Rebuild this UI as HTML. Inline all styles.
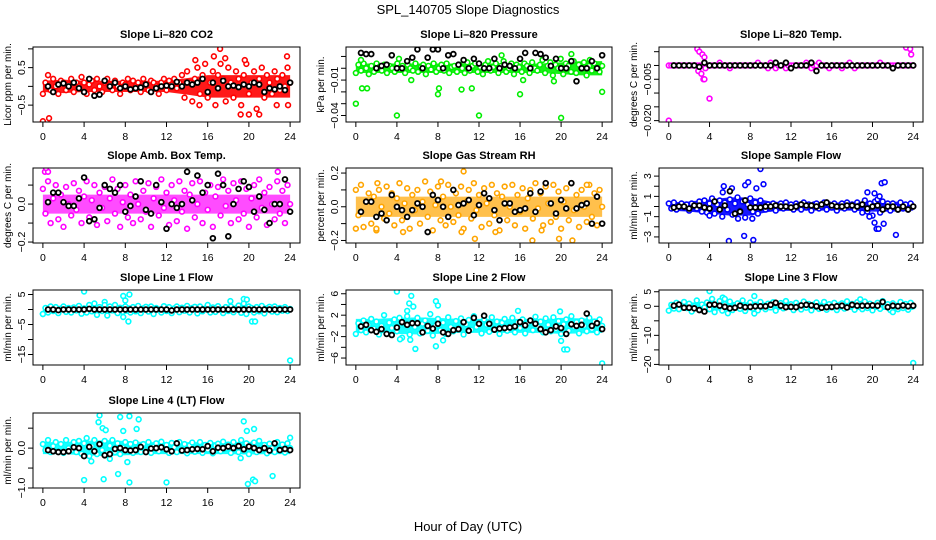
<!DOCTYPE html>
<html><head><meta charset="utf-8"><title>SPL_140705 Slope Diagnostics</title>
<style>
html,body{margin:0;padding:0;background:#fff;}
svg{display:block;font-family:"Liberation Sans",Arial,sans-serif;}
</style></head>
<body>
<svg id="chart" width="936" height="540" viewBox="0 0 936 540" xmlns="http://www.w3.org/2000/svg">
<text x="468" y="14" text-anchor="middle" font-size="13">SPL_140705  Slope Diagnostics</text>
<text x="468" y="531" text-anchor="middle" font-size="13">Hour of Day (UTC)</text>
</svg>
<script>
// ---- data (hour axis 0..24) ----
const hourTicks = [0,4,8,12,16,20,24];

const co2Main = [-0.2,0.1,0.3,-0.1,0.2,0.0,-0.2,0.15,0.1,-0.1,0.05,0.2,-0.15,0.1,0.0,0.25,0.1,-0.2,0.05,0.15,-0.1,0.2,0.0,-0.15,0.1,0.2,0.05,-0.1,0.15,0.0,-0.2,0.1,0.05,0.2,-0.1,0.15,0.0,0.1,-0.15,0.2,0.05,-0.1,0.15,0.1,0.0,-0.2,0.1,0.2,-0.1,0.15,0.05,0.2,-0.05,0.1,0.3,-0.3,0.4,0.1,-0.4,0.2,0.5,-0.2,0.3,0.6,-0.3,0.1,0.4,-0.5,0.3,0.6,0.2,-0.4,0.5,0.1,-0.3,0.4,0.2,-0.5,0.3,0.6,-0.2,0.1,0.4,-0.6,0.2,0.5,-0.3,0.3,0.1,-0.2,0.4,0.2,-0.1,0.3,0.0,0.5,0.1];
const co2Black = [0.0,-0.15,0.05,0.08,0.0,0.1,-0.05,-0.15,0.2,-0.25,-0.22,0.15,0.0,0.1,-0.05,0.0,-0.08,-0.05,-0.03,0.05,-0.15,-0.05,0.0,0.02,0.0,0.12,0.0,0.1,0.05,0.1,0.2,-0.15,0.1,-0.05,0.15,0.0,0.02,-0.02,0.05,0.0,0.1,0.05,-0.15,-0.05,-0.08,0.0,-0.1,0.1];
const co2Out = [[0,-0.93],[0.6,-0.85],[17.2,1.0],[16.6,0.8],[17.7,0.75],[19.2,-0.75],[20,-0.75],[21,-0.75],[23.7,0.8],[14.8,0.7],[19.6,0.7],[15.2,-0.5],[22.7,-0.5],[23.8,-0.5]];
const co2Band = [0.15,0.18,0.15,0.15,0.15,0.15,0.15,0.22,0.3,0.3,0.3,0.3,0.3];

const presMain = [-0.004,0.003,-0.002,0.004,0.0,-0.005,0.002,-0.003,0.004,0.001,-0.002,0.003,-0.004,0.002,0.0,-0.003,0.004,-0.001,0.002,-0.004,0.003,0.0,-0.002,0.004,-0.003,0.001,0.003,-0.005,0.002,-0.001,0.004,-0.003,0.0,0.003,-0.002,0.004,-0.004,0.001,0.002,-0.003,0.003,0.0,-0.004,0.005,-0.002,0.002,0.004,-0.003,0.001,-0.005,0.003,0.006,-0.002,0.001,0.004,-0.004,0.002,0.006,-0.003,0.0,0.004,-0.005,0.003,0.001,-0.003,0.004,0.002,-0.004,0.005,0.0,-0.002,0.003,0.007,-0.004,0.002,0.005,-0.006,0.003,0.0,0.008,-0.005,0.004,0.002,-0.003,0.006,-0.004,0.003,0.0,0.005,-0.006,0.002,-0.002,0.004,0.001,-0.003,0.002];
const presBlack = [0.013,0.012,0.012,0.0,0.002,0.003,0.011,0.0,0.0,0.006,0.009,0.016,0.0,0.009,0.016,0.016,0.0,0.011,0.012,0.003,0.007,0.0,0.008,0.004,0.0,0.0,0.008,0.0,0.003,0.002,0.0,0.008,0.013,0.0,0.013,0.012,0.009,0.002,0.008,0.0,0.0,0.006,-0.011,0.0,0.0,0.006,0.0,0.011];
const presOut = [[0,-0.03],[0.6,-0.017],[1.1,-0.017],[4,-0.04],[8,-0.022],[8.1,-0.017],[10.3,-0.018],[11.3,-0.017],[12,-0.04],[16,-0.022],[20,-0.042],[24,-0.02],[0.5,0.007],[4.2,0.008],[14.2,0.011],[21,0.012],[22.8,0.007],[16.3,-0.01],[19.3,-0.011],[5.4,-0.01]];
const presBand = [0.004,0.004,0.004,0.004,0.004,0.004,0.004,0.004,0.004,0.004,0.005,0.006,0.006];

const tempMain = [0,0,0,0,0,0,0,0,0,0,0,0,0,0,0,0,0,0,0,0,0.001,0,0,0,-0.001,0,0,0,0,0,0,0,0,0,0,0.001,0,0,0,-0.001,0.001,0,-0.001,0,0,0,-0.001,0,0,0,0,0,0,0,0.001,0,-0.001,0,0,0.001,0,0,0,-0.001,0,0,0,0,-0.001,0,0,0.001,0,-0.001,0,0,0,0,0,0,0,0,0,0.001,0,0,0,0,0,0,0,0,0,0,0,0,0];
const tempBlack = [0,0,0,0,0,-0.0005,0.001,0,0,0,0,0,0,0,0,0,0,0,0,0,0.001,0,0.001,-0.001,0,0,0,0.001,-0.002,0,0,0,0,0,0,0,0,0,0,0,0,0,0,-0.001,0,0,0,0];
const tempOut = [[2.8,0.006],[3.0,0.005],[3.3,0.004],[3.5,0.003],[2.9,-0.002],[3.2,-0.003],[3.4,-0.005],[3.5,-0.005],[0,-0.020],[4,-0.012],[23.3,0.0065],[23.7,0.006],[23.8,0.004],[3.6,-0.001]];
const tempBand = [0.0004,0.0008,0.0004,0.0004,0.0004,0.0004,0.0004,0.0004,0.0004,0.0004,0.0004,0.0004,0.0004];

const ambMain = [0.08,-0.05,0.12,-0.1,0.03,0.1,-0.08,0.05,-0.12,0.09,0.0,-0.06,0.11,-0.03,0.07,-0.1,0.04,0.12,-0.07,0.02,0.1,-0.11,0.06,-0.02,0.09,-0.09,0.03,0.13,-0.05,0.08,-0.12,0.01,0.1,-0.07,0.05,-0.1,0.12,0.0,-0.08,0.07,-0.04,0.11,-0.12,0.03,0.09,-0.06,0.13,-0.02,0.06,-0.11,0.1,0.02,-0.09,0.12,-0.04,0.07,-0.13,0.05,0.11,-0.07,0.0,0.12,-0.1,0.06,-0.03,0.1,-0.12,0.04,0.09,-0.06,0.13,-0.01,0.07,-0.1,0.11,0.02,-0.08,0.12,-0.05,0.08,-0.12,0.03,0.1,-0.07,0.13,-0.02,0.06,-0.11,0.09,0.0,-0.08,0.12,-0.05,0.07,-0.1,0.1,0.0];
const ambBlack = [0.01,0.06,0.06,0.01,-0.01,-0.01,0.03,0.14,-0.09,-0.08,-0.02,0.1,0.08,0.06,0.1,-0.04,-0.01,0.04,0.12,-0.03,-0.05,0.1,0.01,-0.13,0.0,-0.02,0.0,0.17,0.02,0.15,0.06,0.1,-0.18,0.16,0.1,-0.17,0.0,0.08,0.12,0.09,-0.04,0.04,-0.03,-0.1,0.0,0.0,0.13,-0.04];
const ambOut = [[0.2,0.17],[0.5,0.17],[0.1,-0.27],[5.8,-0.3],[8.7,-0.25],[13.6,-0.24],[16.1,-0.24],[18.9,-0.32],[21.1,-0.3],[23.5,-0.25],[22.8,0.17],[15.5,-0.22],[3.3,-0.23],[9.6,-0.25],[0.3,0.19]];
const ambBand = [0.05,0.05,0.05,0.05,0.05,0.05,0.05,0.05,0.05,0.05,0.05,0.05,0.05];

const rhMain = [0.1,-0.05,0.13,-0.12,0.03,0.08,-0.1,0.06,-0.14,0.1,0.0,-0.07,0.12,-0.04,0.08,-0.11,0.05,0.14,-0.08,0.02,0.11,-0.13,0.07,-0.02,0.1,-0.1,0.03,0.15,-0.06,0.09,-0.14,0.01,0.12,-0.08,0.06,-0.11,0.13,0.0,-0.09,0.08,-0.05,0.12,-0.13,0.03,0.1,-0.07,0.14,-0.02,0.07,-0.12,0.11,0.02,-0.1,0.13,-0.05,0.08,-0.14,0.06,0.12,-0.08,0.0,0.13,-0.11,0.07,-0.03,0.11,-0.13,0.05,0.1,-0.07,0.14,-0.01,0.08,-0.11,0.12,0.02,-0.09,0.13,-0.06,0.09,-0.13,0.03,0.11,-0.08,0.14,-0.02,0.07,-0.12,0.1,0.0,-0.09,0.13,-0.06,0.08,-0.11,0.1,0.0];
const rhBlack = [-0.03,0.03,0.03,-0.06,-0.04,-0.08,0.07,0.0,-0.02,-0.06,-0.02,0.02,0.0,-0.15,0.07,0.04,0.0,-0.06,0.1,0.01,0.02,0.04,-0.05,0.01,0.08,0.05,-0.02,-0.08,0.02,0.02,-0.03,-0.02,-0.01,0.08,-0.03,0.09,0.14,0.02,-0.04,0.04,-0.01,0.14,-0.01,0.01,0.02,-0.1,0.06,-0.1];
const rhOut = [[0,-0.13],[2.1,0.14],[4.6,-0.15],[10.5,0.21],[11.6,-0.19],[13.6,-0.15],[17.2,-0.2],[21.1,-0.2],[19.8,-0.19],[8.3,0.15],[22.5,0.13],[18.1,-0.14],[10.3,-0.15],[2,-0.13]];
const rhBand = [0.06,0.06,0.06,0.06,0.06,0.06,0.06,0.06,0.06,0.06,0.06,0.06,0.06];

const sampMain = [0.3,-0.2,0.4,-0.3,0.1,0.3,-0.1,0.2,-0.4,0.3,0.0,-0.2,0.5,-0.5,0.6,-0.6,0.3,0.8,-0.7,0.2,0.6,-1.0,0.4,-0.3,0.7,-0.8,0.3,0.9,-0.4,0.5,-1.1,0.2,0.8,-0.5,0.4,-0.7,0.6,0.0,-0.3,0.2,-0.2,0.3,-0.4,0.1,0.3,-0.2,0.4,-0.1,0.2,-0.3,0.3,0.1,-0.3,0.4,-0.1,0.2,-0.4,0.2,0.3,-0.2,0.0,0.4,-0.3,0.2,-0.1,0.3,-0.4,0.1,0.3,-0.2,0.4,0.0,0.2,-0.3,0.4,0.1,-0.6,0.6,-0.5,0.3,-0.9,0.5,0.7,-0.6,0.5,-0.2,0.3,-0.4,0.3,0.0,-0.3,0.4,-0.2,0.2,-0.3,0.3,0.0];
const sampBlack = [-0.1,0.0,0.0,-0.2,0.1,0.1,-0.1,-0.2,0.5,-0.3,0.1,1.5,-0.7,-0.5,0.6,-0.1,-0.1,-0.1,0.0,0.0,0.1,0.0,0.0,-0.1,0.0,0.2,0.1,0.1,0.0,0.2,0.4,0.1,0.0,0.0,0.1,0.1,0.0,0.2,-0.2,0.0,0.1,-0.3,0.0,0.0,-0.3,0.0,-0.3,0.0];
const sampOut = [[5.9,-3.4],[7.4,-2.9],[8.3,-3.3],[9,3.7],[8.6,1.8],[7.5,2.1],[7.8,2.4],[9.3,2.2],[5.4,2.0],[6.2,1.8],[5.3,1.4],[6.8,-1.2],[8.2,-1.2],[4.0,-0.9],[19.5,1.4],[20.2,1.3],[20.9,2.3],[21.2,2.4],[20.7,1.0],[20.2,-1.6],[20.4,-2.2],[20.6,-2.2],[21.1,-1.7],[22.3,-2.8],[19.7,-1.0]];
const sampBand = [0.4,0.5,0.7,0.9,0.9,0.5,0.4,0.4,0.4,0.4,0.5,0.5,0.4];

const l1Main = [-1.5,0.5,-1.0,1.0,-0.5,0.8,-1.2,0.3,1.0,-0.8,0.5,-1.0,0.7,-0.3,1.2,-1.4,0.4,-1.0,1.5,-0.6,2.0,-1.8,0.8,-0.5,2.5,-2.0,1.0,-0.3,1.5,-1.2,0.6,-0.8,1.0,0.0,-1.0,0.8,-0.6,1.2,-1.2,0.4,0.9,-0.7,1.0,-1.5,0.5,0.0,-1.0,1.1,-0.5,0.8,-1.2,0.4,1.0,-0.9,0.6,-0.4,1.2,-1.0,0.5,0.9,-1.3,1.0,-0.6,0.3,1.5,-1.0,0.7,-0.8,1.1,0.0,-1.2,0.8,-0.5,1.0,-0.9,0.4,1.3,-1.1,2.0,-1.5,1.0,0.5,-1.0,0.8,-0.6,1.2,-1.3,0.4,0.9,-0.7,1.0,-0.9,0.5,-0.4,0.8,-0.5,0.2];
const l1Black = [0,0,-0.2,0,0,0,0,0,0.2,0,0,0,0,0,0,0,0,0,0,0,0,0,0,0,-0.3,0,0,0,0,0,0,0,0,0,0,0,0,0,0,0,0,0,0,0,0,0,0,0];
const l1Out = [[4,6],[7.8,4.5],[8.4,5],[7.8,-2.5],[8.3,-4],[8.0,3.0],[18.2,2.8],[19.5,3.5],[19.8,3.3],[20.3,-4],[20.6,-4],[24,-17],[0,-1.5],[6.0,1.5]];
const l1Band = [1.0,1.0,1.0,1.2,1.5,1.0,1.0,1.0,1.0,1.0,1.2,1.0,1.0];

const l2Main = [-1.5,0.5,-0.8,1.0,-1.2,0.2,1.3,-0.5,0.8,-1.6,0.0,2.0,-1.3,0.6,-0.4,1.2,-1.0,1.5,-2.2,0.5,1.8,-1.6,0.7,-0.2,1.5,-1.4,0.4,1.0,-0.9,2.2,-1.8,0.1,1.3,-0.8,0.6,-1.5,1.6,-0.2,-1.0,0.9,-0.4,1.4,-1.6,0.3,1.1,-0.7,1.8,-0.2,0.7,-1.4,1.2,0.2,-1.1,1.6,-0.5,0.8,-1.5,0.6,1.3,-0.9,0.0,1.5,-1.2,0.7,-0.4,1.2,-1.4,0.5,1.0,-0.8,1.7,-0.1,0.8,-1.2,1.4,0.2,-1.0,1.6,-0.6,0.9,-1.5,0.3,1.2,-0.9,1.8,-0.2,0.7,-1.4,1.0,0.0,-1.0,1.5,-0.6,0.8,-1.2,1.2,0.0];
const l2Black = [-0.1,0.2,-0.8,-1.1,-0.6,-1.5,-1.7,-0.3,0.7,0.2,0.5,0.5,-1.2,0.0,-0.5,0.4,-1.2,-1.5,-0.8,-0.6,0.7,-0.9,1.5,0.4,1.9,0.4,-0.7,-0.5,-0.4,-0.3,-0.1,0.7,0.1,1.0,0.4,-0.6,-1.2,-0.8,-0.1,-0.4,-1.5,0.3,0.0,0.2,2.3,0.0,0.5,-0.6];
const l2Out = [[4,6.4],[5.4,5.6],[5.2,4.2],[5.6,3.6],[5.0,2.8],[7.8,4.6],[8.0,3.8],[5.8,-4.3],[5.3,-2.6],[4.3,-2.5],[7.8,-3.8],[8.5,-2.7],[20.0,-2.8],[20.3,-4.4],[20.6,-4.4],[24,-7],[15.8,2.8],[19.9,2.7]];
const l2Band = [1.3,1.3,1.5,1.6,1.5,1.3,1.3,1.3,1.3,1.3,1.5,1.4,1.3];

const l3Main = [-1.5,0.5,-0.8,1.2,-1.0,0.3,1.5,-0.6,0.9,-1.8,0.0,2.0,-1.2,0.6,-0.4,1.3,-1.0,2.5,-2.0,0.5,1.8,-1.5,0.7,-0.2,1.6,-1.3,0.4,1.0,-0.9,2.0,-1.6,0.1,1.3,-0.8,0.6,-1.4,1.5,-0.2,-1.0,0.9,-0.4,1.4,-1.5,0.3,1.1,-0.7,1.8,-0.2,0.7,-1.3,1.2,0.2,-1.1,1.6,-0.5,0.8,-1.4,0.6,1.3,-0.9,0.0,1.5,-1.2,0.7,-0.4,1.2,-1.3,0.5,1.0,-0.8,1.7,-0.1,0.8,-1.2,1.4,0.2,-1.0,1.6,-0.6,0.9,-1.4,0.3,1.2,-0.9,1.8,-0.2,0.7,-1.3,1.0,0.0,-1.0,1.5,-0.6,0.8,-1.2,1.2,0.0];
const l3Black = [0.2,0.6,-0.5,-0.5,-0.7,-1.3,-1.8,0.5,0.6,0.2,-0.2,-0.7,-0.5,0.2,-0.3,-0.2,0.0,0.0,0.0,0.5,1.2,0.2,-0.3,-0.2,-0.3,0.3,0.5,0.3,0.0,-0.5,-0.3,-0.2,0.0,0.2,-0.4,0.5,0.2,0.2,0.2,0.3,0.2,1.5,-0.3,0.2,0.0,0.3,0.0,0.2];
const l3Out = [[4,5.2],[5.3,3],[5.5,2.5],[8.4,3.5],[8.4,-2.5],[5.8,-2.4],[24,-19.5],[18.8,2.4],[22.0,-2.0]];
const l3Band = [1.3,1.3,1.5,1.5,1.4,1.3,1.3,1.3,1.3,1.3,1.3,1.3,1.3];

const l4Main = [0.1,-0.05,0.2,-0.1,0.05,0.15,-0.08,0.1,-0.12,0.2,0.0,-0.06,0.15,-0.1,0.18,-0.14,0.12,0.25,-0.2,0.05,0.2,-0.15,0.1,-0.05,0.18,-0.12,0.06,0.2,-0.1,0.12,-0.15,0.02,0.15,-0.08,0.1,-0.12,0.14,0.0,-0.1,0.1,-0.05,0.15,-0.12,0.04,0.12,-0.08,0.16,-0.03,0.08,-0.12,0.13,0.02,-0.1,0.15,-0.06,0.1,-0.13,0.07,0.14,-0.09,0.0,0.15,-0.12,0.08,-0.04,0.13,-0.13,0.06,0.11,-0.08,0.16,-0.01,0.09,-0.12,0.15,0.03,-0.1,0.2,-0.08,0.12,-0.15,0.04,0.14,-0.1,0.18,-0.03,0.08,-0.13,0.11,0.0,-0.1,0.15,-0.06,0.09,-0.11,0.12,0.0];
const l4Black = [-0.05,-0.08,-0.1,-0.1,-0.08,0.02,0.0,-0.2,0.03,-0.08,0.1,-0.18,-0.15,-0.02,0.0,-0.05,-0.06,-0.05,0.03,-0.1,-0.01,0.0,0.02,-0.03,-0.08,0.12,-0.06,-0.05,-0.03,-0.02,-0.03,0.05,-0.08,0.01,0.0,0.04,0.0,0.05,-0.03,0.04,0.0,-0.05,0.0,-0.06,0.12,-0.05,-0.02,-0.05];
const l4Out = [[5.5,0.82],[5.4,0.65],[5.8,0.5],[6.1,0.45],[7.5,0.78],[7.8,0.43],[8.4,0.8],[9.1,0.48],[9.3,0.72],[4.7,-0.33],[4,-0.8],[5.9,-0.78],[7.3,-0.65],[8.4,-0.86],[8.2,-0.35],[12,-0.86],[19.5,0.67],[19.8,0.43],[20.5,0.48],[19.9,-0.9],[20.4,-0.79],[20.6,-0.83],[22.3,-0.7],[24,0.26],[6.5,-0.27],[19.2,-0.25]];
const l4Band = [0.15,0.15,0.18,0.2,0.18,0.15,0.15,0.15,0.15,0.15,0.16,0.15,0.15];

// ---- layout ----
const colX = [33,346,659], colW = [267,266,264];
const rowY = [47,168,290,413], boxH = 75;
const panels = [
 {name:'co2',title:'Slope Li\u2013820 CO2',ylab:'Licor ppm per min.',color:'#ff0000',c:0,r:0,ymin:-0.95,ymax:1.05,ticks:[-0.5,0,0.5,1],labels:{'-0.5':'\u22120.5','0.5':'0.5'},main:co2Main,black:co2Black,out:co2Out,band:co2Band,op:0.9},
 {name:'pressure',title:'Slope Li\u2013820 Pressure',ylab:'kPa per min.',color:'#00ee00',c:1,r:0,ymin:-0.0455,ymax:0.018,ticks:[0.01,0,-0.01,-0.02,-0.03,-0.04],labels:{'-0.01':'\u22120.01','-0.04':'\u22120.04'},main:presMain,black:presBlack,out:presOut,band:presBand,op:0.9},
 {name:'temp',title:'Slope Li\u2013820 Temp.',ylab:'degrees C per min.',color:'#ff00ff',c:2,r:0,ymin:-0.0205,ymax:0.0067,ticks:[0.005,0,-0.005,-0.01,-0.015,-0.02],labels:{'-0.005':'\u22120.005','-0.02':'\u22120.020'},main:tempMain,black:tempBlack,out:tempOut,band:tempBand,op:0.9},
 {name:'amb-temp',title:'Slope Amb. Box Temp.',ylab:'degrees C per min.',color:'#ff00ff',c:0,r:1,ymin:-0.205,ymax:0.19,ticks:[0.1,0,-0.1,-0.2],labels:{'0':'0.0','-0.2':'\u22120.2'},main:ambMain,black:ambBlack,out:ambOut,band:ambBand,op:0.7},
 {name:'rh',title:'Slope Gas Stream RH',ylab:'percent per min.',color:'#ffa500',c:1,r:1,ymin:-0.215,ymax:0.23,ticks:[0.2,0.1,0,-0.1,-0.2],labels:{'0.2':'0.2','0':'0.0','-0.2':'\u22120.2'},main:rhMain,black:rhBlack,out:rhOut,band:rhBand,op:0.7},
 {name:'sample-flow',title:'Slope Sample Flow',ylab:'ml/min per min.',color:'#0000ff',c:2,r:1,ymin:-3.6,ymax:3.8,ticks:[3,2,1,0,-1,-2,-3],labels:{'3':'3','1':'1','-1':'\u22121','-3':'\u22123'},main:sampMain,black:sampBlack,out:sampOut,band:sampBand,op:0.9},
 {name:'line1',title:'Slope Line 1 Flow',ylab:'ml/min per min.',color:'#00ffff',c:0,r:2,ymin:-18.5,ymax:6.5,ticks:[5,0,-5,-10,-15],labels:{'5':'5','-5':'\u22125','-15':'\u221215'},main:l1Main,black:l1Black,out:l1Out,band:l1Band,op:0.9},
 {name:'line2',title:'Slope Line 2 Flow',ylab:'ml/min per min.',color:'#00ffff',c:1,r:2,ymin:-7.3,ymax:6.7,ticks:[6,4,2,0,-2,-4,-6],labels:{'6':'6','2':'2','-2':'\u22122','-6':'\u22126'},main:l2Main,black:l2Black,out:l2Out,band:l2Band,op:0.9},
 {name:'line3',title:'Slope Line 3 Flow',ylab:'ml/min per min.',color:'#00ffff',c:2,r:2,ymin:-20.2,ymax:5.6,ticks:[5,0,-5,-10,-15,-20],labels:{'5':'5','0':'0','-10':'\u221210','-20':'\u221220'},main:l3Main,black:l3Black,out:l3Out,band:l3Band,op:0.9},
 {name:'line4',title:'Slope Line 4 (LT) Flow',ylab:'ml/min per min.',color:'#00ffff',c:0,r:3,ymin:-1.0,ymax:0.88,ticks:[0.5,0,-0.5,-1],labels:{'0':'0.0','-1':'\u22121.0'},main:l4Main,black:l4Black,out:l4Out,band:l4Band,op:0.9}
];

const NS = 'http://www.w3.org/2000/svg';
const svg = document.getElementById('chart');
function mk(tag, attrs, parent){
  const e = document.createElementNS(NS, tag);
  for (const k in attrs) e.setAttribute(k, attrs[k]);
  (parent||svg).appendChild(e);
  return e;
}

panels.forEach(p => {
  const x0 = colX[p.c], w = colW[p.c], y0 = rowY[p.r], h = boxH;
  const sx = v => x0 + (v + 0.96) / 25.92 * w;
  const sy = v => y0 + (p.ymax - v) / (p.ymax - p.ymin) * h;
  const g = mk('g', {});
  
  
  const clipId = 'clip-' + p.name;
  const cp = mk('clipPath', {id: clipId}, g);
  mk('rect', {x: x0, y: y0, width: w, height: h}, cp);
  const plot = mk('g', {'clip-path': 'url(#' + clipId + ')'}, g);

  let top = [], bot = [];
  p.band.forEach((b, i) => {
    const hx = i * 24 / (p.band.length - 1);
    top.push(sx(hx) + ',' + sy(b));
    bot.unshift(sx(hx) + ',' + sy(-b));
  });
  const band = mk('polygon', {points: top.concat(bot).join(' '), fill: p.color, opacity: p.op}, plot);
  
  

  p.main.forEach((v, i) => {
    const hx = i * 24 / (p.main.length - 1);
    const c = mk('circle', {cx: sx(hx), cy: sy(v), r: 2.4, fill: '#fff', stroke: p.color, 'stroke-width': 1.6}, plot);
    
    
  });
  p.out.forEach(o => {
    const c = mk('circle', {cx: sx(o[0]), cy: sy(o[1]), r: 2.4, fill: '#fff', stroke: p.color, 'stroke-width': 1.6}, plot);
    
    
  });
  p.black.forEach((v, i) => {
    const hx = (i + 1) * 24 / p.black.length;
    const c = mk('circle', {cx: sx(hx), cy: sy(v), r: 2.4, fill: '#fff', stroke: '#000', 'stroke-width': 1.8}, plot);
    
    
  });

  const box = mk('rect', {x: x0, y: y0, width: w, height: h, fill: 'none', stroke: '#000', 'stroke-width': 1}, g);
  
  

  hourTicks.forEach(t => {
    mk('line', {x1: sx(t), x2: sx(t), y1: y0 + h, y2: y0 + h + 5, stroke: '#000'}, g);
    const tl = mk('text', {x: sx(t), y: y0 + h + 18, 'text-anchor': 'middle', 'font-size': 10.5}, g);
    tl.textContent = t;
    
    
  });
  p.ticks.forEach(t => {
    const y = sy(t);
    mk('line', {x1: x0 - 5, x2: x0, y1: y, y2: y, stroke: '#000'}, g);
    const lab = p.labels[String(t)];
    if (lab !== undefined) {
      const tl = mk('text', {x: x0 - 8, y: y, 'text-anchor': 'middle', 'font-size': 10.5, transform: 'rotate(-90 ' + (x0 - 8) + ' ' + y + ')'}, g);
      tl.textContent = lab;
      
      
    }
  });
  const yl = mk('text', {x: x0 - 22, y: y0 + h / 2, 'text-anchor': 'middle', 'font-size': 10, transform: 'rotate(-90 ' + (x0 - 22) + ' ' + (y0 + h / 2) + ')'}, g);
  yl.textContent = p.ylab;
  
  
  const tt = mk('text', {x: x0 + w / 2, y: y0 - 9, 'text-anchor': 'middle', 'font-size': 11, 'font-weight': 'bold'}, g);
  tt.textContent = p.title;
  
  
});
</script>
</body></html>
